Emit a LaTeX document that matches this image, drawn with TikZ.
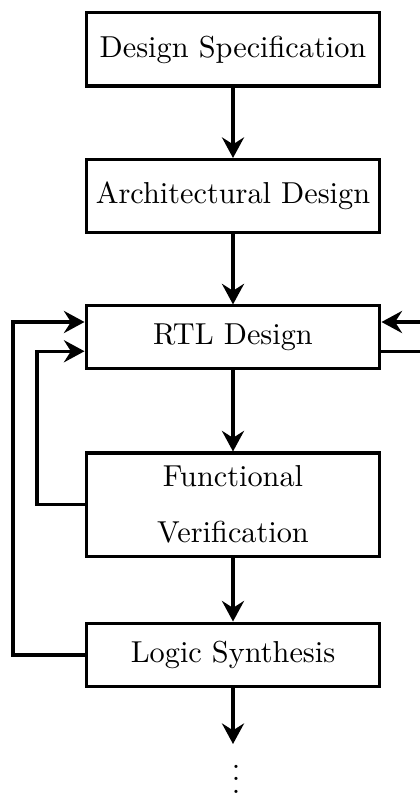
\documentclass[tikz,border=0pt]{standalone}
\usetikzlibrary{arrows.meta,calc}
\begin{document}
\begin{tikzpicture}[x=0.33pt,y=-0.33pt,
  box/.style={draw,line width=1pt,inner sep=0pt,minimum width=97pt,align=center},
  arr/.style={line width=1pt,-{Stealth[length=6.8pt,width=7.3pt,inset=2.3pt]}},
  ln/.style={line width=1pt}]
\useasboundingbox (0,0) rectangle (420,795);
\node[box,minimum height=24.1pt] (ds) at (233,49.5) {Design Specification};
\node[box,minimum height=24.1pt] (ad) at (233,196) {Architectural Design};
\node[box,minimum height=20.5pt] (rtl) at (233,337) {RTL Design};
\node[box,minimum height=34pt] (fv) at (233,504.5) {\raisebox{1pt}{Functional}\\[5.5pt]Verification};
\node[inner sep=0pt,anchor=base] (dots) at (236,793) {$\vdots$};
\node[box,minimum height=21.1pt] (ls) at (233,655) {Logic Synthesis};
\coordinate (xin) at (37,0);
\coordinate (xout) at (13,0);
\coordinate (xr) at (420,0);
\coordinate (end) at (233,744);
\draw[arr] (ds) -- (ad);
\draw[arr] (ad) -- (rtl);
\draw[arr] (rtl) -- (fv);
\draw[arr] (fv) -- (ls);
\draw[arr] (ls.south) -- (end);
\draw[arr] (fv.west) -- (fv.west -| xin) |- ([yshift=-4.7pt]rtl.west);
\draw[arr] (ls.west) -- (ls.west -| xout) |- ([yshift=4.95pt]rtl.west);
\draw[arr] ([yshift=4.95pt]rtl.east -| xr) -- ([yshift=4.95pt]rtl.east);
\draw[ln] ([yshift=-4.7pt]rtl.east) -- ([yshift=-4.7pt]rtl.east -| xr);
\end{tikzpicture}
\end{document}
